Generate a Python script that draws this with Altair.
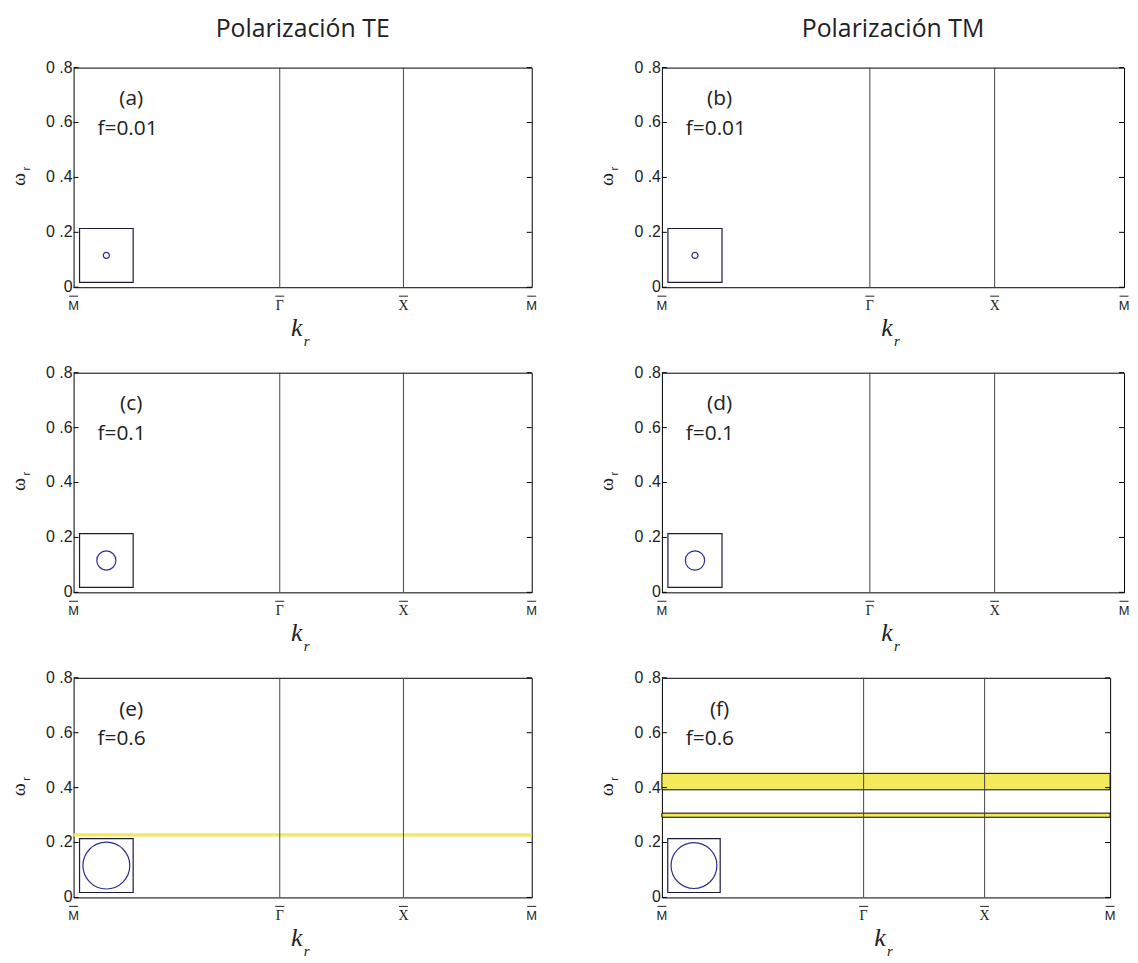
import altair as alt
import pandas as pd

# ---------------- data ----------------
sym_x = [0.0, 0.45, 0.72, 1.0]
sym_labels = ["M", "\u0393", "X", "M"]
sym_serif = [False, True, True, False]
y_ticks = [0.0, 0.2, 0.4, 0.6, 0.8]
y_tick_labels = ["0", "0 .2", "0 .4", "0 .6", "0 .8"]

panel_ids = ["a", "b", "c", "d", "e", "f"]
fill_fraction = [0.01, 0.01, 0.1, 0.1, 0.6, 0.6]
column_titles = ["Polarización TE", "Polarización TM"]

gap_panel = ["e", "f", "f"]
gap_low = [0.222, 0.392, 0.292]
gap_high = [0.234, 0.452, 0.307]
gap_outlined = [False, True, True]

inset_x = [0.013, 0.13]
inset_y = [0.018, 0.214]

# ---------------- styles ----------------
H = 221
widths = [461, 465, 461, 465, 461, 451]
YELLOW = "#f4e95a"
SANS = "Liberation Sans"
TXT = "Open Sans"
SERIF = "Liberation Serif"
INK = "#222"

gaps = pd.DataFrame({"panel": gap_panel, "lo": gap_low, "hi": gap_high,
                     "outlined": gap_outlined,
                     "xa": [sym_x[0]] * len(gap_panel),
                     "xb": [sym_x[-1]] * len(gap_panel)})
syms = pd.DataFrame({"x": sym_x, "label": sym_labels, "serif": sym_serif})
yt = pd.DataFrame({"y": y_ticks, "label": y_tick_labels})


def panel(i):
    pid = panel_ids[i]
    f = fill_fraction[i]
    W = widths[i]
    xs = alt.Scale(domain=[0, 1], nice=False, zero=False)
    ys = alt.Scale(domain=[0, 0.8], nice=False, zero=False)

    layers = []
    g = gaps[gaps.panel == pid]
    if len(g):
        layers.append(alt.Chart(g).mark_rect(color=YELLOW).encode(
            x=alt.X("xa:Q", scale=xs, axis=None), x2="xb:Q",
            y=alt.Y("lo:Q", scale=ys, axis=None), y2="hi:Q"))
        go = g[g.outlined]
        if len(go):
            layers.append(alt.Chart(go).mark_rect(
                fillOpacity=0, stroke="black", strokeWidth=1).encode(
                x=alt.X("xa:Q", scale=xs, axis=None), x2="xb:Q",
                y=alt.Y("lo:Q", scale=ys, axis=None), y2="hi:Q"))

    # symmetry point lines
    inner = syms.iloc[1:3]
    layers.append(alt.Chart(inner).mark_rule(color="#444", strokeWidth=1).encode(
        x=alt.X("x:Q", scale=xs, axis=None)))

    # inward ticks, left and right
    layers.append(alt.Chart(yt).mark_rule(color="black", strokeWidth=1).encode(
        y=alt.Y("y:Q", scale=ys, axis=None), x=alt.value(0), x2=alt.value(5)))
    layers.append(alt.Chart(yt).mark_rule(color="black", strokeWidth=1).encode(
        y=alt.Y("y:Q", scale=ys, axis=None), x=alt.value(W - 5), x2=alt.value(W)))

    # y tick labels
    layers.append(alt.Chart(yt).mark_text(
        align="right", baseline="middle", font=SANS, fontSize=16, color=INK).encode(
        y=alt.Y("y:Q", scale=ys, axis=None), x=alt.value(-1), text="label:N"))

    # x tick labels with overbars
    for serif in (False, True):
        d = syms[syms.serif == serif]
        layers.append(alt.Chart(d).mark_text(
            align="center", baseline="alphabetic",
            font=SERIF if serif else SANS, fontSize=14 if serif else 13,
            color=INK).encode(
            x=alt.X("x:Q", scale=xs, axis=None), y=alt.value(H + 23), text="label:N"))
    layers.append(alt.Chart(syms).mark_rule(
        color=INK, strokeWidth=1, xOffset=-4.5, x2Offset=4.5).encode(
        x=alt.X("x:Q", scale=xs, axis=None), x2="x:Q", y=alt.value(H + 9)))

    # unit cell inset
    side_px = (inset_x[1] - inset_x[0]) * W
    cell = pd.DataFrame({"x0": [inset_x[0]], "x1": [inset_x[1]],
                         "y0": [inset_y[0]], "y1": [inset_y[1]], "f": [f]})
    layers.append(alt.Chart(cell).mark_rect(
        fillOpacity=0, stroke="#1c1c3c", strokeWidth=1.2).encode(
        x=alt.X("x0:Q", scale=xs, axis=None), x2="x1:Q",
        y=alt.Y("y0:Q", scale=ys, axis=None), y2="y1:Q"))
    layers.append(alt.Chart(cell).transform_calculate(
        cx="(datum.x0 + datum.x1) / 2", cy="(datum.y0 + datum.y1) / 2",
        sz=f"4 * {side_px * side_px} * datum.f / PI").mark_point(
        shape="circle", filled=False, color="#2a2d96", strokeWidth=1.2, opacity=1).encode(
        x=alt.X("cx:Q", scale=xs, axis=None), y=alt.Y("cy:Q", scale=ys, axis=None),
        size=alt.Size("sz:Q", scale=None, legend=None)))

    # annotation text
    ann = pd.DataFrame({"lab": [f"({pid})"], "ftxt": [f"f={f}"],
                        "k": ["k"], "r": ["r"], "w": ["\u03c9"]})
    layers.append(alt.Chart(ann).mark_text(
        align="center", baseline="middle", font=TXT, fontSize=21, color=INK).encode(
        x=alt.value(58), y=alt.value(32), text="lab:N"))
    layers.append(alt.Chart(ann).mark_text(
        align="left", baseline="middle", font=TXT, fontSize=21, color=INK).encode(
        x=alt.value(24), y=alt.value(62), text="ftxt:N"))

    # axis titles k_r and omega_r
    layers.append(alt.Chart(ann).mark_text(
        align="center", baseline="alphabetic", font=SERIF, fontStyle="italic",
        fontSize=26, color=INK).encode(
        x=alt.value(W / 2 - 6), y=alt.value(H + 49), text="k:N"))
    layers.append(alt.Chart(ann).mark_text(
        align="left", baseline="alphabetic", font=SERIF, fontStyle="italic",
        fontSize=15, color=INK).encode(
        x=alt.value(W / 2 + 1), y=alt.value(H + 59), text="r:N"))
    layers.append(alt.Chart(ann).mark_text(
        align="center", baseline="alphabetic", font=SERIF, angle=270,
        fontSize=20, color=INK).encode(
        x=alt.value(-49), y=alt.value(H / 2 + 2), text="w:N"))
    layers.append(alt.Chart(ann).mark_text(
        align="left", baseline="alphabetic", font=SANS, angle=270,
        fontSize=11, color=INK).encode(
        x=alt.value(-44), y=alt.value(H / 2 - 7), text="r:N"))

    ch = alt.layer(*layers).properties(width=W, height=H)
    if i < 2:
        ch = ch.properties(title=alt.TitleParams(
            column_titles[i], font=TXT, fontSize=25, fontWeight="normal",
            color=INK, offset=18, anchor="middle"))
    return ch


rows = []
for r in range(3):
    rows.append(alt.hconcat(panel(2 * r), panel(2 * r + 1), spacing=59))

chart = alt.vconcat(*rows, spacing=14).properties(
    padding={"left": 0, "top": 5, "right": 0, "bottom": 0}
).configure_view(stroke="black", strokeWidth=1)

chart.save("out.html", embed_options={"renderer": "svg", "actions": False})
